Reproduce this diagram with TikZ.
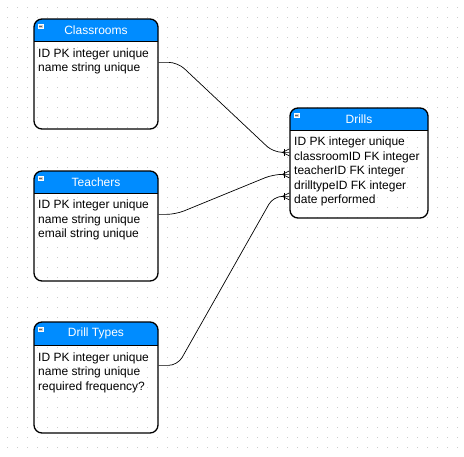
\documentclass[tikz,border=0pt]{standalone}
\usepackage{fontspec}
\setmainfont{Liberation Sans}
\definecolor{hdr}{RGB}{0,140,255}
\definecolor{griddot}{RGB}{205,205,205}
\tikzset{
  entity/.style={draw, line width=1.3pt, rounded corners=8pt, inner sep=0pt},
  hdrfill/.style={fill=hdr, rounded corners=8pt},
  sepline/.style={line width=1pt},
  titletext/.style={text=white, font=\fontsize{12}{14}\selectfont, inner sep=0pt},
  bodytext/.style={anchor=north west, align=left, font=\fontsize{12}{14.5}\selectfont, inner sep=0pt},
  rel/.style={draw, line width=0.7pt, rounded corners=9pt},
  foot/.style={draw, line width=0.7pt},
  icon/.style={draw=white, fill=black!20, line width=0.4pt}
}
\begin{document}
\begin{tikzpicture}[x=1pt,y=-1pt]
\useasboundingbox (0,0) rectangle (464,456);
% grid
\foreach \i in {0,...,45}{\foreach \j in {0,...,45}{\fill[griddot] (7+10*\i,7+10*\j) rectangle ++(1,1);}}

% headers
\begin{scope}\clip (34,19) rectangle (158,41); \fill[hdrfill] (34,19) rectangle (158,70);\end{scope}
\begin{scope}\clip (34,171) rectangle (158,193); \fill[hdrfill] (34,171) rectangle (158,220);\end{scope}
\begin{scope}\clip (34,322) rectangle (158,345); \fill[hdrfill] (34,322) rectangle (158,370);\end{scope}
\begin{scope}\clip (290,108) rectangle (428,130); \fill[hdrfill] (290,108) rectangle (428,160);\end{scope}

% entity outlines
\node[entity, minimum width=124pt, minimum height=110pt] (classrooms) at (96,74) {};
\node[entity, minimum width=124pt, minimum height=110pt] (teachers) at (96,226) {};
\node[entity, minimum width=124pt, minimum height=111pt] (drilltypes) at (96,377.5) {};
\node[entity, minimum width=138pt, minimum height=110pt] (drills) at (359,163) {};

% separators
\draw[sepline] (34,41) -- (158,41);
\draw[sepline] (34,193) -- (158,193);
\draw[sepline] (34,345) -- (158,345);
\draw[sepline] (290,130) -- (428,130);

% icons
\foreach \x/\y in {38/24, 38/176, 38/327, 294/113}{
  \filldraw[icon] (\x,\y) rectangle ++(5,4.5);
  \draw[black!60, line width=0.5pt] (\x+1.2,\y+2.3) -- ++(2.6,0);
}

% titles
\node[titletext] (classroomsT) at (96,30) {Classrooms};
\node[titletext] (teachersT) at (96,182) {Teachers};
\node[titletext] (drilltypesT) at (96,333.5) {Drill Types};
\node[titletext] (drillsT) at (359,119) {Drills};

% bodies
\node[bodytext] (classroomsB) at (38,48.5) {ID PK integer unique\\name string unique};
\node[bodytext] (teachersB) at (38,200) {ID PK integer unique\\name string unique\\email string unique};
\node[bodytext] (drilltypesB) at (38,352.5) {ID PK integer unique\\name string unique\\required frequency?};
\node[bodytext] (drillsB) at (294,137) {ID PK integer unique\\classroomID FK integer\\teacherID FK integer\\drilltypeID FK integer\\date performed};

% attachment points
\path (classrooms.north east) ++(0,44) coordinate (cA);
\path (teachers.north east) ++(0,44) coordinate (cB);
\path (drilltypes.north east) ++(0,44) coordinate (cC);
\path (drills.north west) ++(0,45) coordinate (dA);
\path (drills.north west) ++(0,67) coordinate (dB);
\path (drills.north west) ++(0,89) coordinate (dC);

% relations
\draw[rel] (cA) -- ++(19,0) -- ([xshift=-16pt]dA) -- (dA);
\draw[rel] (cB) -- ++(17,0) -- ([xshift=-16pt]dB) -- (dB);
\draw[rel] (cC) -- ++(19,0) -- ([xshift=-16pt]dC) -- (dC);

% crow's feet
\foreach \c in {dA,dB,dC}{
  \draw[foot] (\c) ++(0,-3.5) -- ++(-7,3.5) -- ++(7,3.5);
  \draw[foot] (\c) ++(-5,-3.5) -- ++(0,7);
}
\end{tikzpicture}
\end{document}
